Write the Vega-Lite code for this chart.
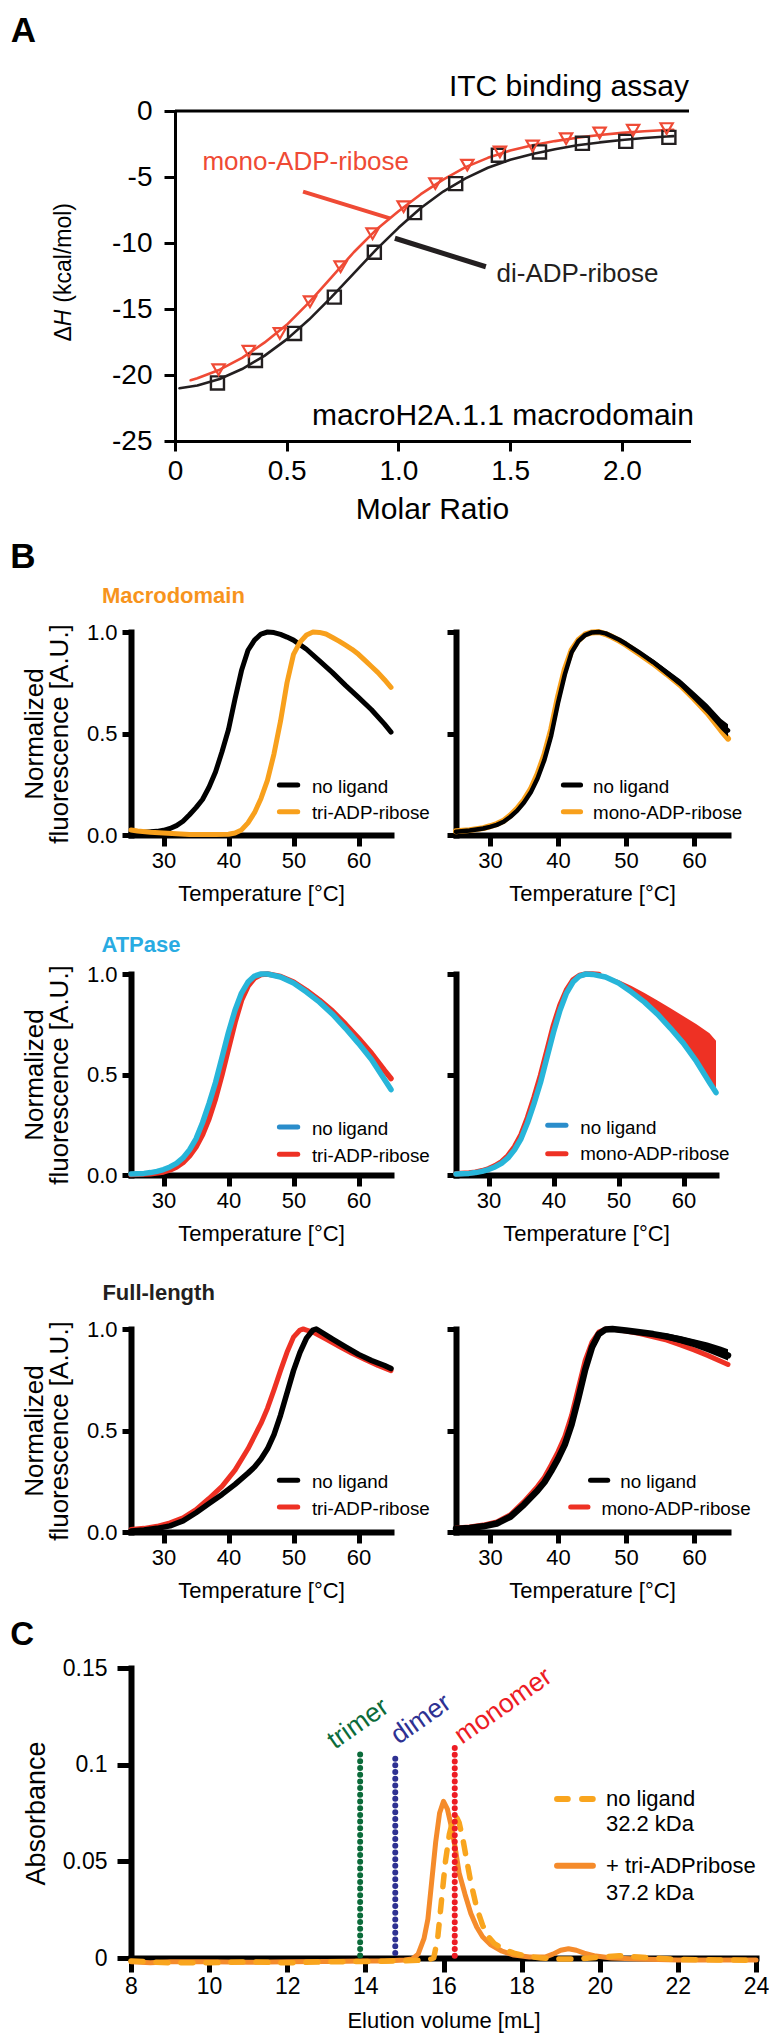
{
"$schema":"https://vega.github.io/schema/vega-lite/v6.json",
"padding":0,
"background":"white",
"spacing":0,
"config":{
 "view":{"stroke":null},
 "font":"Liberation Sans",
 "axis":{"grid":false,"domainColor":"#000000","tickColor":"#000000","labelColor":"#000000","titleColor":"#000000","titleFontWeight":"normal","labelFont":"Liberation Sans","titleFont":"Liberation Sans","domainCap":"square","labelFlush":false,"labelOverlap":false},
 "text":{"font":"Liberation Sans","baseline":"alphabetic","align":"left","color":"#000000"},
 "line":{"strokeCap":"round","strokeJoin":"round"}
},
"datasets":{
 "itc_pts":[
  {"x":0.19,"y":-20.6,"s":"di"},{"x":0.36,"y":-18.9,"s":"di"},{"x":0.535,"y":-16.85,"s":"di"},{"x":0.713,"y":-14.1,"s":"di"},{"x":0.892,"y":-10.7,"s":"di"},{"x":1.072,"y":-7.7,"s":"di"},{"x":1.256,"y":-5.5,"s":"di"},{"x":1.447,"y":-3.35,"s":"di"},{"x":1.631,"y":-3.1,"s":"di"},{"x":1.823,"y":-2.45,"s":"di"},{"x":2.017,"y":-2.3,"s":"di"},{"x":2.21,"y":-2.0,"s":"di"},
  {"x":0.195,"y":-19.6,"s":"mono"},{"x":0.33,"y":-18.2,"s":"mono"},{"x":0.469,"y":-16.85,"s":"mono"},{"x":0.604,"y":-14.45,"s":"mono"},{"x":0.741,"y":-11.8,"s":"mono"},{"x":0.884,"y":-9.3,"s":"mono"},{"x":1.023,"y":-7.25,"s":"mono"},{"x":1.165,"y":-5.5,"s":"mono"},{"x":1.308,"y":-4.1,"s":"mono"},{"x":1.454,"y":-3.1,"s":"mono"},{"x":1.6,"y":-2.65,"s":"mono"},{"x":1.75,"y":-2.1,"s":"mono"},{"x":1.9,"y":-1.66,"s":"mono"},{"x":2.05,"y":-1.46,"s":"mono"},{"x":2.2,"y":-1.33,"s":"mono"}
 ],
 "itc_fit":[
  {"x":0.02,"y":-21.0,"s":"di"},{"x":0.1,"y":-20.8,"s":"di"},{"x":0.2,"y":-20.3,"s":"di"},{"x":0.3,"y":-19.55,"s":"di"},{"x":0.4,"y":-18.55,"s":"di"},{"x":0.5,"y":-17.3,"s":"di"},{"x":0.6,"y":-15.8,"s":"di"},{"x":0.7,"y":-14.1,"s":"di"},{"x":0.8,"y":-12.3,"s":"di"},{"x":0.9,"y":-10.5,"s":"di"},{"x":1.0,"y":-8.85,"s":"di"},{"x":1.1,"y":-7.35,"s":"di"},{"x":1.2,"y":-6.1,"s":"di"},{"x":1.3,"y":-5.1,"s":"di"},{"x":1.4,"y":-4.3,"s":"di"},{"x":1.5,"y":-3.7,"s":"di"},{"x":1.6,"y":-3.25,"s":"di"},{"x":1.7,"y":-2.9,"s":"di"},{"x":1.8,"y":-2.6,"s":"di"},{"x":1.9,"y":-2.38,"s":"di"},{"x":2.0,"y":-2.2,"s":"di"},{"x":2.1,"y":-2.05,"s":"di"},{"x":2.2,"y":-1.93,"s":"di"},{"x":2.23,"y":-1.9,"s":"di"},
  {"x":0.07,"y":-20.4,"s":"mono"},{"x":0.1,"y":-20.25,"s":"mono"},{"x":0.2,"y":-19.6,"s":"mono"},{"x":0.3,"y":-18.7,"s":"mono"},{"x":0.4,"y":-17.55,"s":"mono"},{"x":0.5,"y":-16.2,"s":"mono"},{"x":0.6,"y":-14.5,"s":"mono"},{"x":0.7,"y":-12.6,"s":"mono"},{"x":0.8,"y":-10.7,"s":"mono"},{"x":0.9,"y":-9.0,"s":"mono"},{"x":1.0,"y":-7.6,"s":"mono"},{"x":1.1,"y":-6.3,"s":"mono"},{"x":1.2,"y":-5.2,"s":"mono"},{"x":1.3,"y":-4.25,"s":"mono"},{"x":1.4,"y":-3.55,"s":"mono"},{"x":1.5,"y":-3.0,"s":"mono"},{"x":1.6,"y":-2.6,"s":"mono"},{"x":1.7,"y":-2.28,"s":"mono"},{"x":1.8,"y":-2.02,"s":"mono"},{"x":1.9,"y":-1.82,"s":"mono"},{"x":2.0,"y":-1.66,"s":"mono"},{"x":2.1,"y":-1.54,"s":"mono"},{"x":2.2,"y":-1.44,"s":"mono"},{"x":2.23,"y":-1.42,"s":"mono"}
 ],
 "macro_l":[
  {"T":25,"v":0.012,"s":"n"},{"T":27,"v":0.013,"s":"n"},{"T":29,"v":0.018,"s":"n"},{"T":30,"v":0.023,"s":"n"},{"T":31,"v":0.032,"s":"n"},{"T":32,"v":0.046,"s":"n"},{"T":33,"v":0.068,"s":"n"},{"T":34,"v":0.1,"s":"n"},{"T":35,"v":0.135,"s":"n"},{"T":36,"v":0.175,"s":"n"},{"T":37,"v":0.235,"s":"n"},{"T":38,"v":0.31,"s":"n"},{"T":39,"v":0.41,"s":"n"},{"T":40,"v":0.52,"s":"n"},{"T":41,"v":0.67,"s":"n"},{"T":42,"v":0.81,"s":"n"},{"T":43,"v":0.91,"s":"n"},{"T":44,"v":0.96,"s":"n"},{"T":45,"v":0.99,"s":"n"},{"T":46,"v":1.0,"s":"n"},{"T":47,"v":0.997,"s":"n"},{"T":48,"v":0.988,"s":"n"},{"T":49,"v":0.975,"s":"n"},{"T":50,"v":0.96,"s":"n"},{"T":52,"v":0.915,"s":"n"},{"T":54,"v":0.858,"s":"n"},{"T":56,"v":0.8,"s":"n"},{"T":58,"v":0.737,"s":"n"},{"T":60,"v":0.678,"s":"n"},{"T":62,"v":0.617,"s":"n"},{"T":64,"v":0.546,"s":"n"},{"T":65,"v":0.507,"s":"n"},
  {"T":25,"v":0.025,"s":"t"},{"T":26,"v":0.02,"s":"t"},{"T":28,"v":0.014,"s":"t"},{"T":30,"v":0.01,"s":"t"},{"T":32,"v":0.006,"s":"t"},{"T":34,"v":0.003,"s":"t"},{"T":36,"v":0.002,"s":"t"},{"T":38,"v":0.002,"s":"t"},{"T":40,"v":0.004,"s":"t"},{"T":41,"v":0.01,"s":"t"},{"T":42,"v":0.025,"s":"t"},{"T":43,"v":0.06,"s":"t"},{"T":44,"v":0.11,"s":"t"},{"T":45,"v":0.18,"s":"t"},{"T":46,"v":0.27,"s":"t"},{"T":47,"v":0.4,"s":"t"},{"T":48,"v":0.56,"s":"t"},{"T":49,"v":0.75,"s":"t"},{"T":50,"v":0.89,"s":"t"},{"T":51,"v":0.95,"s":"t"},{"T":52,"v":0.985,"s":"t"},{"T":53,"v":1.0,"s":"t"},{"T":54,"v":0.998,"s":"t"},{"T":55,"v":0.99,"s":"t"},{"T":56,"v":0.973,"s":"t"},{"T":57,"v":0.955,"s":"t"},{"T":58,"v":0.935,"s":"t"},{"T":59,"v":0.915,"s":"t"},{"T":60,"v":0.89,"s":"t"},{"T":61,"v":0.86,"s":"t"},{"T":62,"v":0.83,"s":"t"},{"T":63,"v":0.8,"s":"t"},{"T":64,"v":0.765,"s":"t"},{"T":65,"v":0.727,"s":"t"}
 ],
 "macro_r":[
  {"T":25,"v":0.016,"s":"n"},{"T":27,"v":0.022,"s":"n"},{"T":29,"v":0.032,"s":"n"},{"T":30,"v":0.04,"s":"n"},{"T":31,"v":0.05,"s":"n"},{"T":32,"v":0.065,"s":"n"},{"T":33,"v":0.09,"s":"n"},{"T":34,"v":0.12,"s":"n"},{"T":35,"v":0.16,"s":"n"},{"T":36,"v":0.21,"s":"n"},{"T":37,"v":0.28,"s":"n"},{"T":38,"v":0.37,"s":"n"},{"T":39,"v":0.49,"s":"n"},{"T":40,"v":0.65,"s":"n"},{"T":41,"v":0.79,"s":"n"},{"T":42,"v":0.9,"s":"n"},{"T":43,"v":0.955,"s":"n"},{"T":44,"v":0.985,"s":"n"},{"T":45,"v":0.998,"s":"n"},{"T":46,"v":1.0,"s":"n"},{"T":47,"v":0.993,"s":"n"},{"T":48,"v":0.978,"s":"n"},{"T":49,"v":0.962,"s":"n"},{"T":50,"v":0.942,"s":"n"},{"T":52,"v":0.898,"s":"n"},{"T":54,"v":0.852,"s":"n"},{"T":56,"v":0.8,"s":"n"},{"T":58,"v":0.748,"s":"n"},{"T":60,"v":0.685,"s":"n"},{"T":62,"v":0.62,"s":"n"},{"T":64,"v":0.545,"s":"n"},{"T":65,"v":0.515,"s":"n"},
  {"T":25,"v":0.018,"s":"m"},{"T":27,"v":0.024,"s":"m"},{"T":29,"v":0.034,"s":"m"},{"T":30,"v":0.043,"s":"m"},{"T":31,"v":0.054,"s":"m"},{"T":32,"v":0.07,"s":"m"},{"T":33,"v":0.097,"s":"m"},{"T":34,"v":0.13,"s":"m"},{"T":35,"v":0.172,"s":"m"},{"T":36,"v":0.226,"s":"m"},{"T":37,"v":0.3,"s":"m"},{"T":38,"v":0.395,"s":"m"},{"T":39,"v":0.52,"s":"m"},{"T":40,"v":0.68,"s":"m"},{"T":41,"v":0.815,"s":"m"},{"T":42,"v":0.91,"s":"m"},{"T":43,"v":0.96,"s":"m"},{"T":44,"v":0.988,"s":"m"},{"T":45,"v":0.998,"s":"m"},{"T":46,"v":1.0,"s":"m"},{"T":47,"v":0.99,"s":"m"},{"T":48,"v":0.975,"s":"m"},{"T":49,"v":0.957,"s":"m"},{"T":50,"v":0.937,"s":"m"},{"T":52,"v":0.892,"s":"m"},{"T":54,"v":0.845,"s":"m"},{"T":56,"v":0.793,"s":"m"},{"T":58,"v":0.738,"s":"m"},{"T":60,"v":0.672,"s":"m"},{"T":62,"v":0.6,"s":"m"},{"T":64,"v":0.515,"s":"m"},{"T":65,"v":0.475,"s":"m"}
 ],
 "macro_r_band":[
  {"T":48,"lo":0.975,"hi":0.981},{"T":50,"lo":0.936,"hi":0.948},{"T":52,"lo":0.889,"hi":0.907},{"T":54,"lo":0.84,"hi":0.864},{"T":56,"lo":0.785,"hi":0.815},{"T":58,"lo":0.73,"hi":0.766},{"T":60,"lo":0.664,"hi":0.706},{"T":62,"lo":0.596,"hi":0.644},{"T":64,"lo":0.518,"hi":0.572},{"T":65,"lo":0.485,"hi":0.545}
 ],
 "atp_l":[
  {"T":25,"v":0.005,"s":"n"},{"T":27,"v":0.008,"s":"n"},{"T":28,"v":0.012,"s":"n"},{"T":29,"v":0.018,"s":"n"},{"T":30,"v":0.027,"s":"n"},{"T":31,"v":0.04,"s":"n"},{"T":32,"v":0.058,"s":"n"},{"T":33,"v":0.085,"s":"n"},{"T":34,"v":0.125,"s":"n"},{"T":35,"v":0.18,"s":"n"},{"T":36,"v":0.26,"s":"n"},{"T":37,"v":0.355,"s":"n"},{"T":38,"v":0.46,"s":"n"},{"T":39,"v":0.585,"s":"n"},{"T":40,"v":0.71,"s":"n"},{"T":41,"v":0.82,"s":"n"},{"T":42,"v":0.905,"s":"n"},{"T":43,"v":0.96,"s":"n"},{"T":44,"v":0.99,"s":"n"},{"T":45,"v":1.0,"s":"n"},{"T":46,"v":1.0,"s":"n"},{"T":48,"v":0.985,"s":"n"},{"T":50,"v":0.955,"s":"n"},{"T":52,"v":0.91,"s":"n"},{"T":54,"v":0.86,"s":"n"},{"T":56,"v":0.8,"s":"n"},{"T":58,"v":0.73,"s":"n"},{"T":60,"v":0.655,"s":"n"},{"T":62,"v":0.575,"s":"n"},{"T":64,"v":0.475,"s":"n"},{"T":65,"v":0.425,"s":"n"},
  {"T":25,"v":0.002,"s":"t"},{"T":28,"v":0.006,"s":"t"},{"T":30,"v":0.015,"s":"t"},{"T":31,"v":0.025,"s":"t"},{"T":32,"v":0.04,"s":"t"},{"T":33,"v":0.062,"s":"t"},{"T":34,"v":0.095,"s":"t"},{"T":35,"v":0.14,"s":"t"},{"T":36,"v":0.2,"s":"t"},{"T":37,"v":0.28,"s":"t"},{"T":38,"v":0.38,"s":"t"},{"T":39,"v":0.5,"s":"t"},{"T":40,"v":0.63,"s":"t"},{"T":41,"v":0.76,"s":"t"},{"T":42,"v":0.87,"s":"t"},{"T":43,"v":0.94,"s":"t"},{"T":44,"v":0.98,"s":"t"},{"T":45,"v":0.997,"s":"t"},{"T":46,"v":1.0,"s":"t"},{"T":48,"v":0.988,"s":"t"},{"T":50,"v":0.96,"s":"t"},{"T":52,"v":0.918,"s":"t"},{"T":54,"v":0.87,"s":"t"},{"T":56,"v":0.815,"s":"t"},{"T":58,"v":0.75,"s":"t"},{"T":60,"v":0.68,"s":"t"},{"T":62,"v":0.605,"s":"t"},{"T":64,"v":0.52,"s":"t"},{"T":65,"v":0.48,"s":"t"}
 ],
 "atp_r":[
  {"T":25,"v":0.005,"s":"n"},{"T":27,"v":0.008,"s":"n"},{"T":28,"v":0.012,"s":"n"},{"T":29,"v":0.018,"s":"n"},{"T":30,"v":0.027,"s":"n"},{"T":31,"v":0.04,"s":"n"},{"T":32,"v":0.058,"s":"n"},{"T":33,"v":0.085,"s":"n"},{"T":34,"v":0.125,"s":"n"},{"T":35,"v":0.18,"s":"n"},{"T":36,"v":0.26,"s":"n"},{"T":37,"v":0.355,"s":"n"},{"T":38,"v":0.46,"s":"n"},{"T":39,"v":0.585,"s":"n"},{"T":40,"v":0.71,"s":"n"},{"T":41,"v":0.82,"s":"n"},{"T":42,"v":0.905,"s":"n"},{"T":43,"v":0.96,"s":"n"},{"T":44,"v":0.99,"s":"n"},{"T":45,"v":1.0,"s":"n"},{"T":46,"v":0.998,"s":"n"},{"T":48,"v":0.985,"s":"n"},{"T":50,"v":0.955,"s":"n"},{"T":52,"v":0.91,"s":"n"},{"T":54,"v":0.86,"s":"n"},{"T":56,"v":0.8,"s":"n"},{"T":58,"v":0.73,"s":"n"},{"T":60,"v":0.655,"s":"n"},{"T":62,"v":0.565,"s":"n"},{"T":64,"v":0.46,"s":"n"},{"T":65,"v":0.41,"s":"n"},
  {"T":25,"v":0.006,"s":"m"},{"T":27,"v":0.01,"s":"m"},{"T":28,"v":0.014,"s":"m"},{"T":29,"v":0.021,"s":"m"},{"T":30,"v":0.031,"s":"m"},{"T":31,"v":0.046,"s":"m"},{"T":32,"v":0.066,"s":"m"},{"T":33,"v":0.096,"s":"m"},{"T":34,"v":0.14,"s":"m"},{"T":35,"v":0.2,"s":"m"},{"T":36,"v":0.285,"s":"m"},{"T":37,"v":0.385,"s":"m"},{"T":38,"v":0.495,"s":"m"},{"T":39,"v":0.62,"s":"m"},{"T":40,"v":0.745,"s":"m"},{"T":41,"v":0.845,"s":"m"},{"T":42,"v":0.92,"s":"m"},{"T":43,"v":0.97,"s":"m"},{"T":44,"v":0.993,"s":"m"},{"T":45,"v":1.0,"s":"m"},{"T":46,"v":1.0,"s":"m"},{"T":47,"v":0.997,"s":"m"}
 ],
 "atp_r_band":[
  {"T":47,"lo":0.993,"hi":0.998},{"T":48,"lo":0.985,"hi":0.992},{"T":50,"lo":0.956,"hi":0.97},{"T":52,"lo":0.912,"hi":0.94},{"T":54,"lo":0.862,"hi":0.905},{"T":56,"lo":0.802,"hi":0.868},{"T":58,"lo":0.732,"hi":0.83},{"T":60,"lo":0.657,"hi":0.79},{"T":62,"lo":0.567,"hi":0.75},{"T":64,"lo":0.462,"hi":0.705},{"T":65,"lo":0.412,"hi":0.668}
 ],
 "fl_l":[
  {"T":25,"v":0.005,"s":"n"},{"T":27,"v":0.01,"s":"n"},{"T":29,"v":0.018,"s":"n"},{"T":31,"v":0.03,"s":"n"},{"T":33,"v":0.055,"s":"n"},{"T":35,"v":0.095,"s":"n"},{"T":37,"v":0.14,"s":"n"},{"T":39,"v":0.185,"s":"n"},{"T":41,"v":0.235,"s":"n"},{"T":43,"v":0.29,"s":"n"},{"T":44,"v":0.32,"s":"n"},{"T":45,"v":0.36,"s":"n"},{"T":46,"v":0.41,"s":"n"},{"T":47,"v":0.48,"s":"n"},{"T":48,"v":0.575,"s":"n"},{"T":49,"v":0.685,"s":"n"},{"T":50,"v":0.795,"s":"n"},{"T":51,"v":0.885,"s":"n"},{"T":52,"v":0.955,"s":"n"},{"T":53,"v":0.995,"s":"n"},{"T":53.5,"v":1.0,"s":"n"},{"T":54,"v":0.99,"s":"n"},{"T":56,"v":0.95,"s":"n"},{"T":58,"v":0.912,"s":"n"},{"T":60,"v":0.875,"s":"n"},{"T":62,"v":0.845,"s":"n"},{"T":64,"v":0.82,"s":"n"},{"T":65,"v":0.805,"s":"n"},
  {"T":25,"v":0.012,"s":"t"},{"T":27,"v":0.018,"s":"t"},{"T":29,"v":0.028,"s":"t"},{"T":31,"v":0.045,"s":"t"},{"T":33,"v":0.07,"s":"t"},{"T":35,"v":0.11,"s":"t"},{"T":37,"v":0.165,"s":"t"},{"T":39,"v":0.225,"s":"t"},{"T":41,"v":0.305,"s":"t"},{"T":43,"v":0.41,"s":"t"},{"T":45,"v":0.535,"s":"t"},{"T":46,"v":0.61,"s":"t"},{"T":47,"v":0.7,"s":"t"},{"T":48,"v":0.795,"s":"t"},{"T":49,"v":0.885,"s":"t"},{"T":50,"v":0.96,"s":"t"},{"T":51,"v":0.995,"s":"t"},{"T":51.5,"v":1.0,"s":"t"},{"T":52,"v":0.995,"s":"t"},{"T":53,"v":0.985,"s":"t"},{"T":55,"v":0.95,"s":"t"},{"T":57,"v":0.915,"s":"t"},{"T":59,"v":0.88,"s":"t"},{"T":61,"v":0.85,"s":"t"},{"T":63,"v":0.82,"s":"t"},{"T":65,"v":0.795,"s":"t"}
 ],
 "fl_r":[
  {"T":25,"v":0.016,"s":"n"},{"T":27,"v":0.02,"s":"n"},{"T":29,"v":0.028,"s":"n"},{"T":31,"v":0.042,"s":"n"},{"T":33,"v":0.075,"s":"n"},{"T":35,"v":0.135,"s":"n"},{"T":37,"v":0.205,"s":"n"},{"T":38,"v":0.245,"s":"n"},{"T":39,"v":0.3,"s":"n"},{"T":40,"v":0.36,"s":"n"},{"T":41,"v":0.43,"s":"n"},{"T":42,"v":0.53,"s":"n"},{"T":43,"v":0.66,"s":"n"},{"T":44,"v":0.8,"s":"n"},{"T":45,"v":0.91,"s":"n"},{"T":46,"v":0.975,"s":"n"},{"T":47,"v":0.998,"s":"n"},{"T":48,"v":1.0,"s":"n"},{"T":50,"v":0.993,"s":"n"},{"T":52,"v":0.984,"s":"n"},{"T":54,"v":0.975,"s":"n"},{"T":56,"v":0.963,"s":"n"},{"T":58,"v":0.948,"s":"n"},{"T":60,"v":0.93,"s":"n"},{"T":62,"v":0.91,"s":"n"},{"T":64,"v":0.885,"s":"n"},{"T":65,"v":0.87,"s":"n"},
  {"T":25,"v":0.02,"s":"m"},{"T":27,"v":0.025,"s":"m"},{"T":29,"v":0.034,"s":"m"},{"T":31,"v":0.05,"s":"m"},{"T":33,"v":0.085,"s":"m"},{"T":35,"v":0.15,"s":"m"},{"T":37,"v":0.225,"s":"m"},{"T":38,"v":0.27,"s":"m"},{"T":39,"v":0.33,"s":"m"},{"T":40,"v":0.395,"s":"m"},{"T":41,"v":0.47,"s":"m"},{"T":42,"v":0.575,"s":"m"},{"T":43,"v":0.71,"s":"m"},{"T":44,"v":0.845,"s":"m"},{"T":45,"v":0.935,"s":"m"},{"T":46,"v":0.985,"s":"m"},{"T":47,"v":1.0,"s":"m"},{"T":48,"v":1.0,"s":"m"},{"T":50,"v":0.99,"s":"m"},{"T":52,"v":0.978,"s":"m"},{"T":54,"v":0.962,"s":"m"},{"T":56,"v":0.945,"s":"m"},{"T":58,"v":0.922,"s":"m"},{"T":60,"v":0.897,"s":"m"},{"T":62,"v":0.87,"s":"m"},{"T":64,"v":0.84,"s":"m"},{"T":65,"v":0.825,"s":"m"}
 ],
 "fl_r_band":[
  {"T":50,"lo":0.988,"hi":0.997},{"T":52,"lo":0.976,"hi":0.99},{"T":54,"lo":0.963,"hi":0.985},{"T":56,"lo":0.948,"hi":0.978},{"T":58,"lo":0.93,"hi":0.966},{"T":60,"lo":0.91,"hi":0.95},{"T":62,"lo":0.886,"hi":0.934},{"T":64,"lo":0.858,"hi":0.912},{"T":65,"lo":0.845,"hi":0.9}
 ],
 "sec":[
  {"mL":8.0,"A":-0.002,"s":"t"},{"mL":8.5,"A":-0.0025,"s":"t"},{"mL":9,"A":-0.002,"s":"t"},{"mL":10,"A":-0.002,"s":"t"},{"mL":11,"A":-0.0022,"s":"t"},{"mL":12,"A":-0.002,"s":"t"},{"mL":13,"A":-0.0018,"s":"t"},{"mL":14,"A":-0.0015,"s":"t"},{"mL":14.5,"A":-0.0015,"s":"t"},{"mL":15.0,"A":-0.001,"s":"t"},{"mL":15.2,"A":-0.0005,"s":"t"},{"mL":15.35,"A":0.002,"s":"t"},{"mL":15.5,"A":0.01,"s":"t"},{"mL":15.6,"A":0.02,"s":"t"},{"mL":15.7,"A":0.04,"s":"t"},{"mL":15.8,"A":0.06,"s":"t"},{"mL":15.9,"A":0.075,"s":"t"},{"mL":16.0,"A":0.081,"s":"t"},{"mL":16.1,"A":0.077,"s":"t"},{"mL":16.2,"A":0.068,"s":"t"},{"mL":16.3,"A":0.057,"s":"t"},{"mL":16.4,"A":0.044,"s":"t"},{"mL":16.55,"A":0.033,"s":"t"},{"mL":16.7,"A":0.023,"s":"t"},{"mL":16.85,"A":0.016,"s":"t"},{"mL":17.0,"A":0.011,"s":"t"},{"mL":17.2,"A":0.007,"s":"t"},{"mL":17.5,"A":0.0035,"s":"t"},{"mL":17.8,"A":0.0015,"s":"t"},{"mL":18.2,"A":0.0005,"s":"t"},{"mL":18.6,"A":0.0005,"s":"t"},{"mL":18.8,"A":0.002,"s":"t"},{"mL":19.0,"A":0.004,"s":"t"},{"mL":19.2,"A":0.0048,"s":"t"},{"mL":19.4,"A":0.004,"s":"t"},{"mL":19.6,"A":0.0025,"s":"t"},{"mL":19.9,"A":0.001,"s":"t"},{"mL":20.3,"A":0.0,"s":"t"},{"mL":21,"A":-0.0005,"s":"t"},{"mL":22,"A":-0.001,"s":"t"},{"mL":23,"A":-0.001,"s":"t"},{"mL":24,"A":-0.001,"s":"t"},
  {"mL":8.0,"A":-0.0015,"s":"n"},{"mL":8.5,"A":-0.002,"s":"n"},{"mL":9,"A":-0.0025,"s":"n"},{"mL":10,"A":-0.0025,"s":"n"},{"mL":11,"A":-0.002,"s":"n"},{"mL":12,"A":-0.0025,"s":"n"},{"mL":13,"A":-0.002,"s":"n"},{"mL":14,"A":-0.0018,"s":"n"},{"mL":15,"A":-0.0015,"s":"n"},{"mL":15.6,"A":-0.001,"s":"n"},{"mL":15.75,"A":0.0,"s":"n"},{"mL":15.85,"A":0.01,"s":"n"},{"mL":15.95,"A":0.03,"s":"n"},{"mL":16.05,"A":0.05,"s":"n"},{"mL":16.15,"A":0.064,"s":"n"},{"mL":16.25,"A":0.072,"s":"n"},{"mL":16.32,"A":0.0735,"s":"n"},{"mL":16.4,"A":0.07,"s":"n"},{"mL":16.5,"A":0.061,"s":"n"},{"mL":16.6,"A":0.05,"s":"n"},{"mL":16.7,"A":0.039,"s":"n"},{"mL":16.85,"A":0.026,"s":"n"},{"mL":17.0,"A":0.017,"s":"n"},{"mL":17.15,"A":0.011,"s":"n"},{"mL":17.3,"A":0.0075,"s":"n"},{"mL":17.5,"A":0.005,"s":"n"},{"mL":17.8,"A":0.0025,"s":"n"},{"mL":18.1,"A":0.001,"s":"n"},{"mL":18.5,"A":0.0,"s":"n"},{"mL":19,"A":-0.0005,"s":"n"},{"mL":19.5,"A":-0.0005,"s":"n"},{"mL":20,"A":0.0005,"s":"n"},{"mL":20.5,"A":0.0012,"s":"n"},{"mL":21,"A":0.0005,"s":"n"},{"mL":22,"A":-0.0008,"s":"n"},{"mL":23,"A":-0.001,"s":"n"},{"mL":24,"A":-0.0012,"s":"n"}
 ],
 "sec_markers":[
  {"mL":13.866,"top":0.1052,"name":"trimer"},{"mL":14.765,"top":0.1031,"name":"dimer"},{"mL":16.288,"top":0.1086,"name":"monomer"}
 ]
},
"vconcat":[
 {
  "hconcat":[
   {"width":43.5,"height":10,"data":{"values":[{}]},"mark":{"type":"point","opacity":0},"encoding":{}},
   {
    "width":514,"height":330,
    "layer":[
     {"data":{"values":[{}]},"mark":{"type":"rule","opacity":0},"encoding":{"x":{"datum":-0.7799},"y":{"datum":8.409},"y2":{"datum":-31.515}}},
     {"data":{"name":"itc_fit"},"transform":[{"filter":"datum.s=='di'"}],"mark":{"type":"line","color":"#231f20","strokeWidth":2.6},
      "encoding":{
       "x":{"field":"x","type":"quantitative","scale":{"domain":[0,2.3],"nice":false,"zero":false},"axis":{"values":[0,0.5,1,1.5,2],"labelExpr":"datum.value==0?'0':format(datum.value,'.1f')","title":"Molar Ratio","titleFontSize":30,"titlePadding":9,"labelFontSize":28,"labelPadding":6,"tickSize":10,"tickWidth":3,"domainWidth":3}},
       "y":{"field":"y","type":"quantitative","scale":{"domain":[-25,0],"nice":false,"zero":false},"axis":{"values":[0,-5,-10,-15,-20,-25],"labelExpr":"toString(datum.value)","title":null,"labelFontSize":28,"labelPadding":12,"tickSize":11,"tickWidth":3,"domainWidth":3}}}},
     {"data":{"name":"itc_fit"},"transform":[{"filter":"datum.s=='mono'"}],"mark":{"type":"line","color":"#ef4a35","strokeWidth":2.6},"encoding":{"x":{"field":"x","type":"quantitative"},"y":{"field":"y","type":"quantitative"}}},
     {"data":{"values":[{}]},"mark":{"type":"rule","color":"#000000","strokeWidth":3},"encoding":{"y":{"datum":0}}},
     {"data":{"name":"itc_pts"},"transform":[{"filter":"datum.s=='di'"}],"mark":{"type":"point","shape":"square","size":170,"filled":false,"color":"#231f20","strokeWidth":2.4,"opacity":1},"encoding":{"x":{"field":"x","type":"quantitative"},"y":{"field":"y","type":"quantitative"}}},
     {"data":{"name":"itc_pts"},"transform":[{"filter":"datum.s=='mono'"}],"mark":{"type":"point","shape":"triangle-down","size":150,"filled":false,"color":"#ef4a35","strokeWidth":2.2,"opacity":1},"encoding":{"x":{"field":"x","type":"quantitative"},"y":{"field":"y","type":"quantitative"}}},
     {"data":{"values":[{}]},"mark":{"type":"rule","color":"#ef4a35","strokeWidth":4},"encoding":{"x":{"datum":0.573},"y":{"datum":-6.11},"x2":{"datum":0.962},"y2":{"datum":-8.13}}},
     {"data":{"values":[{}]},"mark":{"type":"rule","color":"#231f20","strokeWidth":5},"encoding":{"x":{"datum":0.984},"y":{"datum":-9.64},"x2":{"datum":1.391},"y2":{"datum":-11.8}}},
     {"data":{"values":[{}]},"mark":{"type":"text","text":"Δ","fontSize":23,"angle":270},"encoding":{"x":{"datum":-0.4658},"y":{"datum":-17.46}}},
     {"data":{"values":[{}]},"mark":{"type":"text","text":"H","fontSize":23,"angle":270,"fontStyle":"italic"},"encoding":{"x":{"datum":-0.4658},"y":{"datum":-16.3}}},
     {"data":{"values":[{}]},"mark":{"type":"text","text":"(kcal/mol)","fontSize":23,"angle":270},"encoding":{"x":{"datum":-0.4658},"y":{"datum":-14.52}}},
     {"data":{"values":[{}]},"mark":{"type":"text","text":"A","fontSize":35,"fontWeight":"bold"},"encoding":{"x":{"datum":-0.7352},"y":{"datum":5.227}}},
     {"data":{"values":[{}]},"mark":{"type":"text","text":"ITC binding assay","fontSize":30,"align":"right"},"encoding":{"x":{"datum":2.3},"y":{"datum":1.14}}},
     {"data":{"values":[{}]},"mark":{"type":"text","text":"macroH2A.1.1 macrodomain","fontSize":30,"align":"right"},"encoding":{"x":{"datum":2.322},"y":{"datum":-23.79}}},
     {"data":{"values":[{}]},"mark":{"type":"text","text":"mono-ADP-ribose","fontSize":26,"color":"#ef4a35"},"encoding":{"x":{"datum":0.1226},"y":{"datum":-4.47}}},
     {"data":{"values":[{}]},"mark":{"type":"text","text":"di-ADP-ribose","fontSize":26,"color":"#231f20"},"encoding":{"x":{"datum":1.439},"y":{"datum":-12.93}}}
    ]
   }
  ],
  "spacing":0,"bounds":"flush"
 },
 {
  "hconcat":[
   {
    "width":260,"height":203,
    "layer":[
     {"data":{"values":[{}]},"mark":{"type":"rule","opacity":0},"encoding":{"x":{"datum":4.877},"y":{"datum":1.5172},"y2":{"datum":-0.4089}}},
     {"data":{"name":"macro_l"},"transform":[{"filter":"datum.s=='n'"}],"mark":{"type":"line","color":"#000000","strokeWidth":5},
      "encoding":{
       "x":{"field":"T","type":"quantitative","scale":{"domain":[25,65],"nice":false,"zero":false},"axis":{"values":[30,40,50,60],"title":"Temperature [°C]","titleFontSize":22,"titlePadding":12,"labelFontSize":22,"labelPadding":4,"tickSize":11,"tickWidth":5,"domainWidth":6}},
       "y":{"field":"v","type":"quantitative","scale":{"domain":[0,1],"nice":false,"zero":false},"axis":{"values":[0,0.5,1],"format":".1f","title":["Normalized","fluorescence [A.U.]"],"titleFontSize":26,"titleLineHeight":25,"titlePadding":14,"labelFontSize":22,"labelPadding":5,"tickSize":9,"tickWidth":5,"domainWidth":6}}}},
     {"data":{"name":"macro_l"},"transform":[{"filter":"datum.s=='t'"}],"mark":{"type":"line","color":"#f8a01c","strokeWidth":5},"encoding":{"x":{"field":"T","type":"quantitative"},"y":{"field":"v","type":"quantitative"}}},
     {"data":{"values":[{}]},"mark":{"type":"rule","color":"#000000","strokeWidth":5,"strokeCap":"round"},"encoding":{"x":{"datum":47.83},"x2":{"datum":50.65},"y":{"datum":0.2463}}},
     {"data":{"values":[{}]},"mark":{"type":"rule","color":"#f8a01c","strokeWidth":5,"strokeCap":"round"},"encoding":{"x":{"datum":47.83},"x2":{"datum":50.65},"y":{"datum":0.1148}}},
     {"data":{"values":[{}]},"mark":{"type":"text","text":"no ligand","fontSize":18.8},"encoding":{"x":{"datum":52.83},"y":{"datum":0.2054}}},
     {"data":{"values":[{}]},"mark":{"type":"text","text":"tri-ADP-ribose","fontSize":18.8},"encoding":{"x":{"datum":52.83},"y":{"datum":0.0773}}},
     {"data":{"values":[{}]},"mark":{"type":"text","text":"B","fontSize":35,"fontWeight":"bold"},"encoding":{"x":{"datum":6.415},"y":{"datum":1.315}}},
     {"data":{"values":[{}]},"mark":{"type":"text","text":"Macrodomain","fontSize":22,"fontWeight":"bold","color":"#f7941d"},"encoding":{"x":{"datum":20.52},"y":{"datum":1.141}}}
    ]
   },
   {
    "width":272,"height":203,
    "layer":[
     {"data":{"name":"macro_r"},"transform":[{"filter":"datum.s=='m'"}],"mark":{"type":"line","color":"#f8a01c","strokeWidth":6},"encoding":{"x":{"field":"T","type":"quantitative"},"y":{"field":"v","type":"quantitative"}}},
     {"data":{"name":"macro_r_band"},"mark":{"type":"area","color":"#000000","opacity":1},"encoding":{"x":{"field":"T","type":"quantitative"},"y":{"field":"lo","type":"quantitative"},"y2":{"field":"hi"}}},
     {"data":{"name":"macro_r"},"transform":[{"filter":"datum.s=='n'"}],"mark":{"type":"line","color":"#000000","strokeWidth":4.5},
      "encoding":{
       "x":{"field":"T","type":"quantitative","scale":{"domain":[25,65],"nice":false,"zero":false},"axis":{"values":[30,40,50,60],"title":"Temperature [°C]","titleFontSize":22,"titlePadding":12,"labelFontSize":22,"labelPadding":4,"tickSize":11,"tickWidth":5,"domainWidth":6}},
       "y":{"field":"v","type":"quantitative","scale":{"domain":[0,1],"nice":false,"zero":false},"axis":{"values":[0,0.5,1],"labels":false,"title":null,"tickSize":9,"tickWidth":5,"domainWidth":6}}}},
     {"data":{"values":[{}]},"mark":{"type":"rule","color":"#000000","strokeWidth":5,"strokeCap":"round"},"encoding":{"x":{"datum":40.79},"x2":{"datum":43.32},"y":{"datum":0.2463}}},
     {"data":{"values":[{}]},"mark":{"type":"rule","color":"#f8a01c","strokeWidth":5,"strokeCap":"round"},"encoding":{"x":{"datum":40.79},"x2":{"datum":43.32},"y":{"datum":0.1148}}},
     {"data":{"values":[{}]},"mark":{"type":"text","text":"no ligand","fontSize":18.8},"encoding":{"x":{"datum":45.15},"y":{"datum":0.2054}}},
     {"data":{"values":[{}]},"mark":{"type":"text","text":"mono-ADP-ribose","fontSize":18.8},"encoding":{"x":{"datum":45.15},"y":{"datum":0.0773}}}
    ]
   }
  ],
  "spacing":65,"bounds":"flush"
 },
 {
  "hconcat":[
   {
    "width":260,"height":201,
    "layer":[
     {"data":{"values":[{}]},"mark":{"type":"rule","opacity":0},"encoding":{"x":{"datum":4.877},"y":{"datum":1.2687},"y2":{"datum":-0.4527}}},
     {"data":{"name":"atp_l"},"transform":[{"filter":"datum.s=='t'"}],"mark":{"type":"line","color":"#ee3124","strokeWidth":5.5},"encoding":{"x":{"field":"T","type":"quantitative"},"y":{"field":"v","type":"quantitative"}}},
     {"data":{"name":"atp_l"},"transform":[{"filter":"datum.s=='n'"}],"mark":{"type":"line","color":"#27b5d9","strokeWidth":5.5},
      "encoding":{
       "x":{"field":"T","type":"quantitative","scale":{"domain":[25,65],"nice":false,"zero":false},"axis":{"values":[30,40,50,60],"title":"Temperature [°C]","titleFontSize":22,"titlePadding":12,"labelFontSize":22,"labelPadding":4,"tickSize":11,"tickWidth":5,"domainWidth":6}},
       "y":{"field":"v","type":"quantitative","scale":{"domain":[0,1],"nice":false,"zero":false},"axis":{"values":[0,0.5,1],"format":".1f","title":["Normalized","fluorescence [A.U.]"],"titleFontSize":26,"titleLineHeight":25,"titlePadding":14,"labelFontSize":22,"labelPadding":5,"tickSize":9,"tickWidth":5,"domainWidth":6}}}},
     {"data":{"values":[{}]},"mark":{"type":"rule","color":"#2a8dcb","strokeWidth":5,"strokeCap":"round"},"encoding":{"x":{"datum":47.83},"x2":{"datum":50.65},"y":{"datum":0.2388}}},
     {"data":{"values":[{}]},"mark":{"type":"rule","color":"#ee3124","strokeWidth":5,"strokeCap":"round"},"encoding":{"x":{"datum":47.83},"x2":{"datum":50.65},"y":{"datum":0.103}}},
     {"data":{"values":[{}]},"mark":{"type":"text","text":"no ligand","fontSize":18.8},"encoding":{"x":{"datum":52.83},"y":{"datum":0.1975}}},
     {"data":{"values":[{}]},"mark":{"type":"text","text":"tri-ADP-ribose","fontSize":18.8},"encoding":{"x":{"datum":52.83},"y":{"datum":0.0647}}},
     {"data":{"values":[{}]},"mark":{"type":"text","text":"ATPase","fontSize":22,"fontWeight":"bold","color":"#29abe2"},"encoding":{"x":{"datum":20.45},"y":{"datum":1.1095}}}
    ]
   },
   {
    "width":260,"height":201,
    "layer":[
     {"data":{"name":"atp_r"},"transform":[{"filter":"datum.s=='m'"}],"mark":{"type":"line","color":"#ee3124","strokeWidth":5.5},"encoding":{"x":{"field":"T","type":"quantitative"},"y":{"field":"v","type":"quantitative"}}},
     {"data":{"name":"atp_r_band"},"mark":{"type":"area","color":"#ee3124","opacity":1},"encoding":{"x":{"field":"T","type":"quantitative"},"y":{"field":"lo","type":"quantitative"},"y2":{"field":"hi"}}},
     {"data":{"name":"atp_r"},"transform":[{"filter":"datum.s=='n'"}],"mark":{"type":"line","color":"#27b5d9","strokeWidth":5.5},
      "encoding":{
       "x":{"field":"T","type":"quantitative","scale":{"domain":[25,65],"nice":false,"zero":false},"axis":{"values":[30,40,50,60],"title":"Temperature [°C]","titleFontSize":22,"titlePadding":12,"labelFontSize":22,"labelPadding":4,"tickSize":11,"tickWidth":5,"domainWidth":6}},
       "y":{"field":"v","type":"quantitative","scale":{"domain":[0,1],"nice":false,"zero":false},"axis":{"values":[0,0.5,1],"labels":false,"title":null,"tickSize":9,"tickWidth":5,"domainWidth":6}}}},
     {"data":{"values":[{}]},"mark":{"type":"rule","color":"#2a8dcb","strokeWidth":5,"strokeCap":"round"},"encoding":{"x":{"datum":39.11},"x2":{"datum":41.92},"y":{"datum":0.2473}}},
     {"data":{"values":[{}]},"mark":{"type":"rule","color":"#ee3124","strokeWidth":5,"strokeCap":"round"},"encoding":{"x":{"datum":39.11},"x2":{"datum":41.92},"y":{"datum":0.106}}},
     {"data":{"values":[{}]},"mark":{"type":"text","text":"no ligand","fontSize":18.8},"encoding":{"x":{"datum":44.11},"y":{"datum":0.2055}}},
     {"data":{"values":[{}]},"mark":{"type":"text","text":"mono-ADP-ribose","fontSize":18.8},"encoding":{"x":{"datum":44.11},"y":{"datum":0.076}}}
    ]
   }
  ],
  "spacing":65,"bounds":"flush"
 },
 {
  "hconcat":[
   {
    "width":260,"height":203,
    "layer":[
     {"data":{"values":[{}]},"mark":{"type":"rule","opacity":0},"encoding":{"x":{"datum":4.877},"y":{"datum":1.3103},"y2":{"datum":-0.3842}}},
     {"data":{"name":"fl_l"},"transform":[{"filter":"datum.s=='t'"}],"mark":{"type":"line","color":"#ee3124","strokeWidth":5},"encoding":{"x":{"field":"T","type":"quantitative"},"y":{"field":"v","type":"quantitative"}}},
     {"data":{"name":"fl_l"},"transform":[{"filter":"datum.s=='n'"}],"mark":{"type":"line","color":"#000000","strokeWidth":5.5},
      "encoding":{
       "x":{"field":"T","type":"quantitative","scale":{"domain":[25,65],"nice":false,"zero":false},"axis":{"values":[30,40,50,60],"title":"Temperature [°C]","titleFontSize":22,"titlePadding":12,"labelFontSize":22,"labelPadding":4,"tickSize":11,"tickWidth":5,"domainWidth":6}},
       "y":{"field":"v","type":"quantitative","scale":{"domain":[0,1],"nice":false,"zero":false},"axis":{"values":[0,0.5,1],"format":".1f","title":["Normalized","fluorescence [A.U.]"],"titleFontSize":26,"titleLineHeight":25,"titlePadding":14,"labelFontSize":22,"labelPadding":5,"tickSize":9,"tickWidth":5,"domainWidth":6}}}},
     {"data":{"values":[{}]},"mark":{"type":"rule","color":"#000000","strokeWidth":5,"strokeCap":"round"},"encoding":{"x":{"datum":47.83},"x2":{"datum":50.65},"y":{"datum":0.2547}}},
     {"data":{"values":[{}]},"mark":{"type":"rule","color":"#ee3124","strokeWidth":5,"strokeCap":"round"},"encoding":{"x":{"datum":47.83},"x2":{"datum":50.65},"y":{"datum":0.1232}}},
     {"data":{"values":[{}]},"mark":{"type":"text","text":"no ligand","fontSize":18.8},"encoding":{"x":{"datum":52.83},"y":{"datum":0.2167}}},
     {"data":{"values":[{}]},"mark":{"type":"text","text":"tri-ADP-ribose","fontSize":18.8},"encoding":{"x":{"datum":52.83},"y":{"datum":0.0823}}},
     {"data":{"values":[{}]},"mark":{"type":"text","text":"Full-length","fontSize":22,"fontWeight":"bold","color":"#231f20"},"encoding":{"x":{"datum":20.6},"y":{"datum":1.1453}}}
    ]
   },
   {
    "width":272,"height":203,
    "layer":[
     {"data":{"name":"fl_r"},"transform":[{"filter":"datum.s=='m'"}],"mark":{"type":"line","color":"#ee3124","strokeWidth":5},"encoding":{"x":{"field":"T","type":"quantitative"},"y":{"field":"v","type":"quantitative"}}},
     {"data":{"name":"fl_r_band"},"mark":{"type":"area","color":"#000000","opacity":1},"encoding":{"x":{"field":"T","type":"quantitative"},"y":{"field":"lo","type":"quantitative"},"y2":{"field":"hi"}}},
     {"data":{"name":"fl_r"},"transform":[{"filter":"datum.s=='n'"}],"mark":{"type":"line","color":"#000000","strokeWidth":6.5},
      "encoding":{
       "x":{"field":"T","type":"quantitative","scale":{"domain":[25,65],"nice":false,"zero":false},"axis":{"values":[30,40,50,60],"title":"Temperature [°C]","titleFontSize":22,"titlePadding":12,"labelFontSize":22,"labelPadding":4,"tickSize":11,"tickWidth":5,"domainWidth":6}},
       "y":{"field":"v","type":"quantitative","scale":{"domain":[0,1],"nice":false,"zero":false},"axis":{"values":[0,0.5,1],"labels":false,"title":null,"tickSize":9,"tickWidth":5,"domainWidth":6}}}},
     {"data":{"values":[{}]},"mark":{"type":"rule","color":"#000000","strokeWidth":5,"strokeCap":"round"},"encoding":{"x":{"datum":44.78},"x2":{"datum":47.31},"y":{"datum":0.2547}}},
     {"data":{"values":[{}]},"mark":{"type":"rule","color":"#ee3124","strokeWidth":5,"strokeCap":"round"},"encoding":{"x":{"datum":41.87},"x2":{"datum":44.41},"y":{"datum":0.1232}}},
     {"data":{"values":[{}]},"mark":{"type":"text","text":"no ligand","fontSize":18.8},"encoding":{"x":{"datum":49.15},"y":{"datum":0.2167}}},
     {"data":{"values":[{}]},"mark":{"type":"text","text":"mono-ADP-ribose","fontSize":18.8},"encoding":{"x":{"datum":46.38},"y":{"datum":0.0823}}}
    ]
   }
  ],
  "spacing":65,"bounds":"flush"
 },
 {
  "width":625,"height":290,
  "layer":[
   {"data":{"values":[{}]},"mark":{"type":"rule","opacity":0},"encoding":{"x":{"datum":4.6515},"y":{"datum":0.1795},"y2":{"datum":-0.04086}}},
   {"data":{"name":"sec"},"transform":[{"filter":"datum.s=='t'"}],"mark":{"type":"line","color":"#f58b2b","strokeWidth":5},
    "encoding":{
     "x":{"field":"mL","type":"quantitative","scale":{"domain":[8,24],"nice":false,"zero":false},"axis":{"values":[8,10,12,14,16,18,20,22,24],"title":"Elution volume [mL]","titleFontSize":22,"titlePadding":12,"labelFontSize":23,"labelPadding":3,"tickSize":14,"tickWidth":5,"domainWidth":6}},
     "y":{"field":"A","type":"quantitative","scale":{"domain":[0,0.15],"nice":false,"zero":false},"axis":{"values":[0,0.05,0.1,0.15],"labelExpr":"toString(datum.value)","title":"Absorbance","titleFontSize":27,"titlePadding":12,"labelFontSize":23,"labelPadding":10,"tickSize":14,"tickWidth":5,"domainWidth":6}}}},
   {"data":{"name":"sec"},"transform":[{"filter":"datum.s=='n'"}],"mark":{"type":"line","color":"#f9a51e","strokeWidth":5.5,"strokeDash":[12,13]},"encoding":{"x":{"field":"mL","type":"quantitative"},"y":{"field":"A","type":"quantitative"}}},
   {"data":{"name":"sec_markers"},"mark":{"type":"rule","strokeWidth":6,"strokeDash":[0,6.7],"strokeCap":"round"},"encoding":{"x":{"field":"mL","type":"quantitative"},"y":{"field":"top","type":"quantitative"},"y2":{"datum":0},"color":{"field":"name","type":"nominal","scale":{"domain":["trimer","dimer","monomer"],"range":["#0b6b3a","#2e3192","#ed1c24"]},"legend":null}}},
   {"data":{"values":[{}]},"mark":{"type":"text","text":"trimer","fontSize":26.5,"angle":325,"color":"#0b6b3a"},"encoding":{"x":{"datum":13.224},"y":{"datum":0.1077}}},
   {"data":{"values":[{}]},"mark":{"type":"text","text":"dimer","fontSize":26.5,"angle":325,"color":"#2e3192"},"encoding":{"x":{"datum":14.849},"y":{"datum":0.1103}}},
   {"data":{"values":[{}]},"mark":{"type":"text","text":"monomer","fontSize":26.5,"angle":325,"color":"#ed1c24"},"encoding":{"x":{"datum":16.475},"y":{"datum":0.1103}}},
   {"data":{"values":[{}]},"mark":{"type":"rule","color":"#f9a51e","strokeWidth":6,"strokeCap":"round","strokeDash":[10.7,14.3]},"encoding":{"x":{"datum":18.907},"x2":{"datum":19.824},"y":{"datum":0.08224}}},
   {"data":{"values":[{}]},"mark":{"type":"rule","color":"#f58b2b","strokeWidth":6,"strokeCap":"round"},"encoding":{"x":{"datum":18.907},"x2":{"datum":19.824},"y":{"datum":0.04774}}},
   {"data":{"values":[{}]},"mark":{"type":"text","text":"no ligand","fontSize":22},"encoding":{"x":{"datum":20.158},"y":{"datum":0.07847}}},
   {"data":{"values":[{}]},"mark":{"type":"text","text":"32.2 kDa","fontSize":22},"encoding":{"x":{"datum":20.158},"y":{"datum":0.06554}}},
   {"data":{"values":[{}]},"mark":{"type":"text","text":"+ tri-ADPribose","fontSize":22},"encoding":{"x":{"datum":20.158},"y":{"datum":0.04397}}},
   {"data":{"values":[{}]},"mark":{"type":"text","text":"37.2 kDa","fontSize":22},"encoding":{"x":{"datum":20.158},"y":{"datum":0.03016}}},
   {"data":{"values":[{}]},"mark":{"type":"text","text":"C","fontSize":33,"fontWeight":"bold"},"encoding":{"x":{"datum":4.9075},"y":{"datum":0.1619}}}
  ]
 }
]
}
